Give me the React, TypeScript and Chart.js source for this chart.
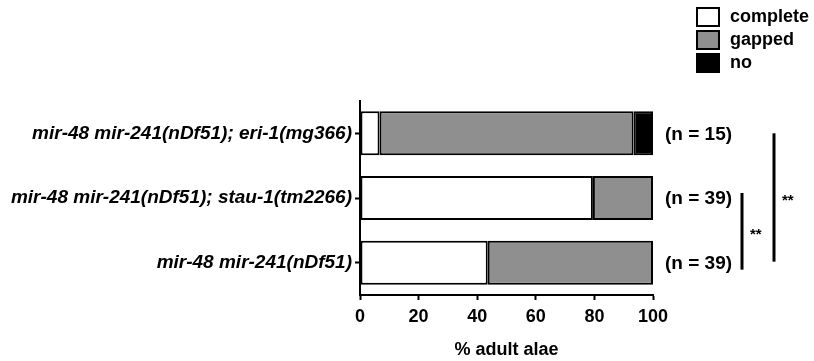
import React, { useEffect, useRef } from "react";
import { Chart, registerables } from "chart.js";

Chart.register(...registerables);

const categories = [
  "mir-48 mir-241(nDf51); eri-1(mg366)",
  "mir-48 mir-241(nDf51); stau-1(tm2266)",
  "mir-48 mir-241(nDf51)",
];
const completeValues = [6.67, 79.49, 43.59];
const gappedValues = [86.67, 20.51, 56.41];
const noValues = [6.67, 0, 0];
const nLabels = ["(n = 15)", "(n = 39)", "(n = 39)"];
const seriesNames = ["complete", "gapped", "no"];
const seriesColors = ["#ffffff", "#8f8f8f", "#000000"];
const xTicks = [0, 20, 40, 60, 80, 100];
const xTitle = "% adult alae";
const sigLabel = "**";

const FONT = "'Liberation Sans', Arial, Helvetica, sans-serif";

const overlayPlugin = {
  id: "overlay",
  afterDraw(chart: any) {
    const { ctx, chartArea } = chart;
    const yScale = chart.scales.y;
    ctx.save();
    // legend
    const lx = 697;
    let ly = 8;
    ctx.font = `bold 18px ${FONT}`;
    ctx.textBaseline = "middle";
    ctx.textAlign = "left";
    seriesNames.forEach((name, i) => {
      ctx.fillStyle = seriesColors[i];
      ctx.fillRect(lx, ly, 22, 18);
      ctx.strokeStyle = "#000";
      ctx.lineWidth = 2;
      ctx.strokeRect(lx, ly, 22, 18);
      ctx.fillStyle = "#000";
      ctx.fillText(name, lx + 33, ly + 9);
      ly += 23;
    });
    // n labels
    ctx.font = `bold 19px ${FONT}`;
    nLabels.forEach((t, i) => {
      const y = yScale.getPixelForValue(i);
      ctx.fillText(t, chartArea.right + 12, y + 1);
    });
    // significance lines
    ctx.strokeStyle = "#000";
    ctx.lineWidth = 3;
    const y1 = yScale.getPixelForValue(1);
    const y2 = yScale.getPixelForValue(2);
    const y0 = yScale.getPixelForValue(0);
    const x1 = chartArea.right + 89;
    ctx.beginPath();
    ctx.moveTo(x1, y1 - 5);
    ctx.lineTo(x1, y2 + 7);
    ctx.stroke();
    const x2 = chartArea.right + 121;
    ctx.beginPath();
    ctx.moveTo(x2, y0);
    ctx.lineTo(x2, y2 - 1);
    ctx.stroke();
    ctx.font = `bold 15px ${FONT}`;
    ctx.fillText(sigLabel, x1 + 8, (y1 + y2) / 2 + 5);
    ctx.fillText(sigLabel, x2 + 8, (y0 + y2) / 2 + 3);
    ctx.restore();
  },
};

export default function App() {
  const ref = useRef<HTMLCanvasElement>(null);
  useEffect(() => {
    const canvas = ref.current!;
    const ds = [completeValues, gappedValues, noValues].map((vals, i) => ({
      label: seriesNames[i],
      data: vals,
      backgroundColor: seriesColors[i],
      borderColor: "#000",
      borderWidth: 2,
      borderSkipped: false as any,
      categoryPercentage: 1,
      barPercentage: 0.68,
    }));
    const chart = new Chart(canvas, {
      type: "bar",
      data: { labels: categories, datasets: ds },
      plugins: [overlayPlugin],
      options: {
        indexAxis: "y",
        animation: false,
        responsive: false,
        maintainAspectRatio: false,
        layout: { padding: { top: 101, right: 161, left: 0, bottom: 0 } },
        plugins: { legend: { display: false }, tooltip: { enabled: false } },
        scales: {
          x: {
            stacked: true,
            min: 0,
            max: 100,
            afterBuildTicks: (s: any) => {
              s.ticks = xTicks.map((v) => ({ value: v }));
            },
            afterFit: (s: any) => {
              s.height = 66;
            },
            grid: {
              drawOnChartArea: false,
              drawTicks: true,
              tickLength: 5,
              tickWidth: 2,
              color: "#000",
            },
            border: { display: true, color: "#000", width: 2 },
            ticks: {
              color: "#000",
              padding: 6,
              maxRotation: 0,
              font: { family: FONT, size: 18, weight: "bold" },
            },
            title: {
              display: true,
              text: xTitle,
              color: "#000",
              padding: { top: 0, bottom: 0 },
              font: { family: FONT, size: 18, weight: "bold" },
            },
          },
          y: {
            stacked: true,
            afterFit: (s: any) => {
              s.width = 360;
            },
            grid: {
              offset: false,
              drawOnChartArea: false,
              drawTicks: true,
              tickLength: 5,
              tickWidth: 2,
              color: "#000",
            },
            border: { display: true, color: "#000", width: 2 },
            ticks: {
              color: "#000",
              padding: 3,
              font: { family: FONT, size: 19, weight: "bold", style: "italic" },
            },
          },
        },
      },
    });
    return () => chart.destroy();
  }, []);
  return (
    <div style={{ position: "fixed", left: 0, top: 0, width: 814, height: 361, background: "#fff" }}>
      <canvas ref={ref} width={814} height={361} style={{ width: 814, height: 361 }} />
    </div>
  );
}
